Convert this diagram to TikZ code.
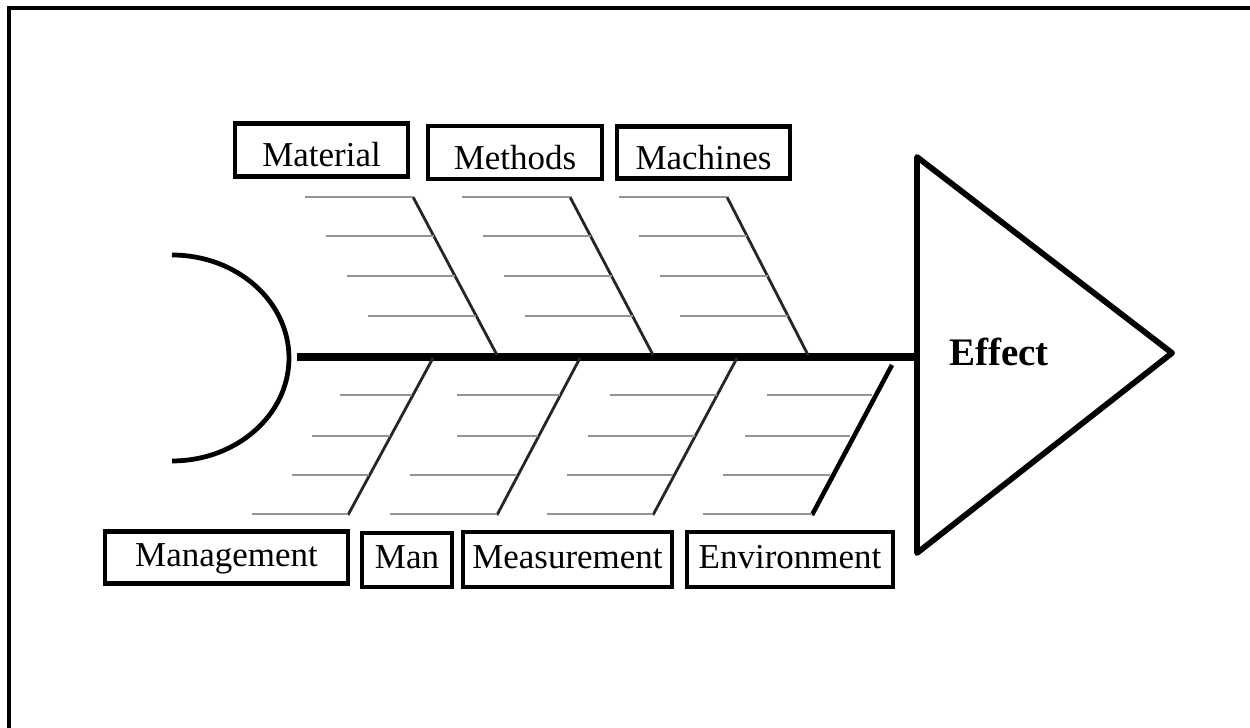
\documentclass[tikz,border=0pt]{standalone}
\usepackage{fontspec}
\setmainfont{Liberation Serif}
\usetikzlibrary{calc}
\begin{document}
\begin{tikzpicture}[x=0.02cm,y=-0.02cm,
  catbox/.style={draw, line width=2.4pt, inner sep=0pt, font=\fontsize{19.9}{23}\selectfont},
  topbox/.style={catbox, text height=19.0pt, text depth=0pt},
  botbox/.style={catbox, text height=13.2pt, text depth=3pt},
  rib/.style={line width=1.1pt, draw=black!42},
  bone/.style={line width=1.6pt, draw=black!85},
  frame/.style={line width=1.9pt},
]
\useasboundingbox (0,0) rectangle (1250,727);
% frame
\draw[frame] (9,745) -- (9,8) -- (1265,8);

% head (semi ellipse)
\coordinate (headtop) at (172,255);
\draw[line width=2.7pt] (headtop) arc[start angle=90, end angle=-90, x radius=2.34cm, y radius=2.06cm];

% effect triangle
\coordinate (t1) at (917,157);
\coordinate (t2) at (1172,353);
\coordinate (t3) at (917,553);
\draw[line width=3.3pt, line join=round] (t1) -- (t2) -- (t3) -- cycle;
\node[font=\fontsize{22.2}{26}\selectfont\bfseries] (effect) at (999,352) {Effect};

% spine
\coordinate (spineL) at (297,357);
\coordinate (spineR) at (917,357);
\draw[line width=4.5pt] (spineL) -- (spineR);

% category boxes
\node[topbox, minimum width=3.46cm, minimum height=1.06cm] (material) at (321.5,150) {Material};
\node[topbox, minimum width=3.48cm, minimum height=1.06cm] (methods) at (515,152.5) {Methods};
\node[topbox, minimum width=3.46cm, minimum height=1.04cm] (machines) at (703.5,152.5) {Machines};
\node[botbox, minimum width=4.86cm, minimum height=1.04cm] (management) at (226.5,557.5) {Management};
\node[botbox, minimum width=1.80cm, minimum height=1.08cm] (man) at (407,560) {Man};
\node[botbox, minimum width=4.18cm, minimum height=1.10cm] (measurement) at (567.5,559.5) {Measurement};
\node[botbox, minimum width=4.12cm, minimum height=1.10cm] (environment) at (790,559.5) {Environment};

% top bones
\coordinate (a1) at (413,197); \coordinate (a2) at (497,355);
\coordinate (b1) at (570,197); \coordinate (b2) at (653,355);
\coordinate (c1) at (727,197); \coordinate (c2) at (808,355);
\foreach \p in {a,b,c}{
  \draw[bone] (\p1) -- (\p2);
  \foreach \t in {0,0.247,0.5,0.753}{
    \draw[rib] ($(\p1)!\t!(\p2)$) -- ++(-108,0);
  }
}

% bottom bones
\coordinate (d1) at (433,358); \coordinate (d2) at (348,515);
\coordinate (e1) at (580,358); \coordinate (e2) at (497,515);
\coordinate (f1) at (737,358); \coordinate (f2) at (653,515);
\coordinate (g1) at (892,365); \coordinate (g2) at (812,515);
\draw[bone] (d1) -- (d2);
\draw[bone] (e1) -- (e2);
\draw[bone] (f1) -- (f2);
\draw[line width=2.6pt] (g1) -- (g2);

% bottom ribs
\draw[rib] (340,395) -- (412,395);
\draw[rib] (312,436) -- (390,436);
\draw[rib] (292,475) -- (369,475);
\draw[rib] (252,514) -- (348,514);

\draw[rib] (457,395) -- (560,395);
\draw[rib] (457,436) -- (538,436);
\draw[rib] (410,475) -- (517,475);
\draw[rib] (390,514) -- (497,514);

\draw[rib] (610,395) -- (717,395);
\draw[rib] (588,436) -- (695,436);
\draw[rib] (567,475) -- (673,475);
\draw[rib] (547,514) -- (653,514);

\draw[rib] (767,395) -- (872,395);
\draw[rib] (745,436) -- (850,436);
\draw[rib] (723,475) -- (830,475);
\draw[rib] (703,514) -- (812,514);
\end{tikzpicture}
\end{document}
